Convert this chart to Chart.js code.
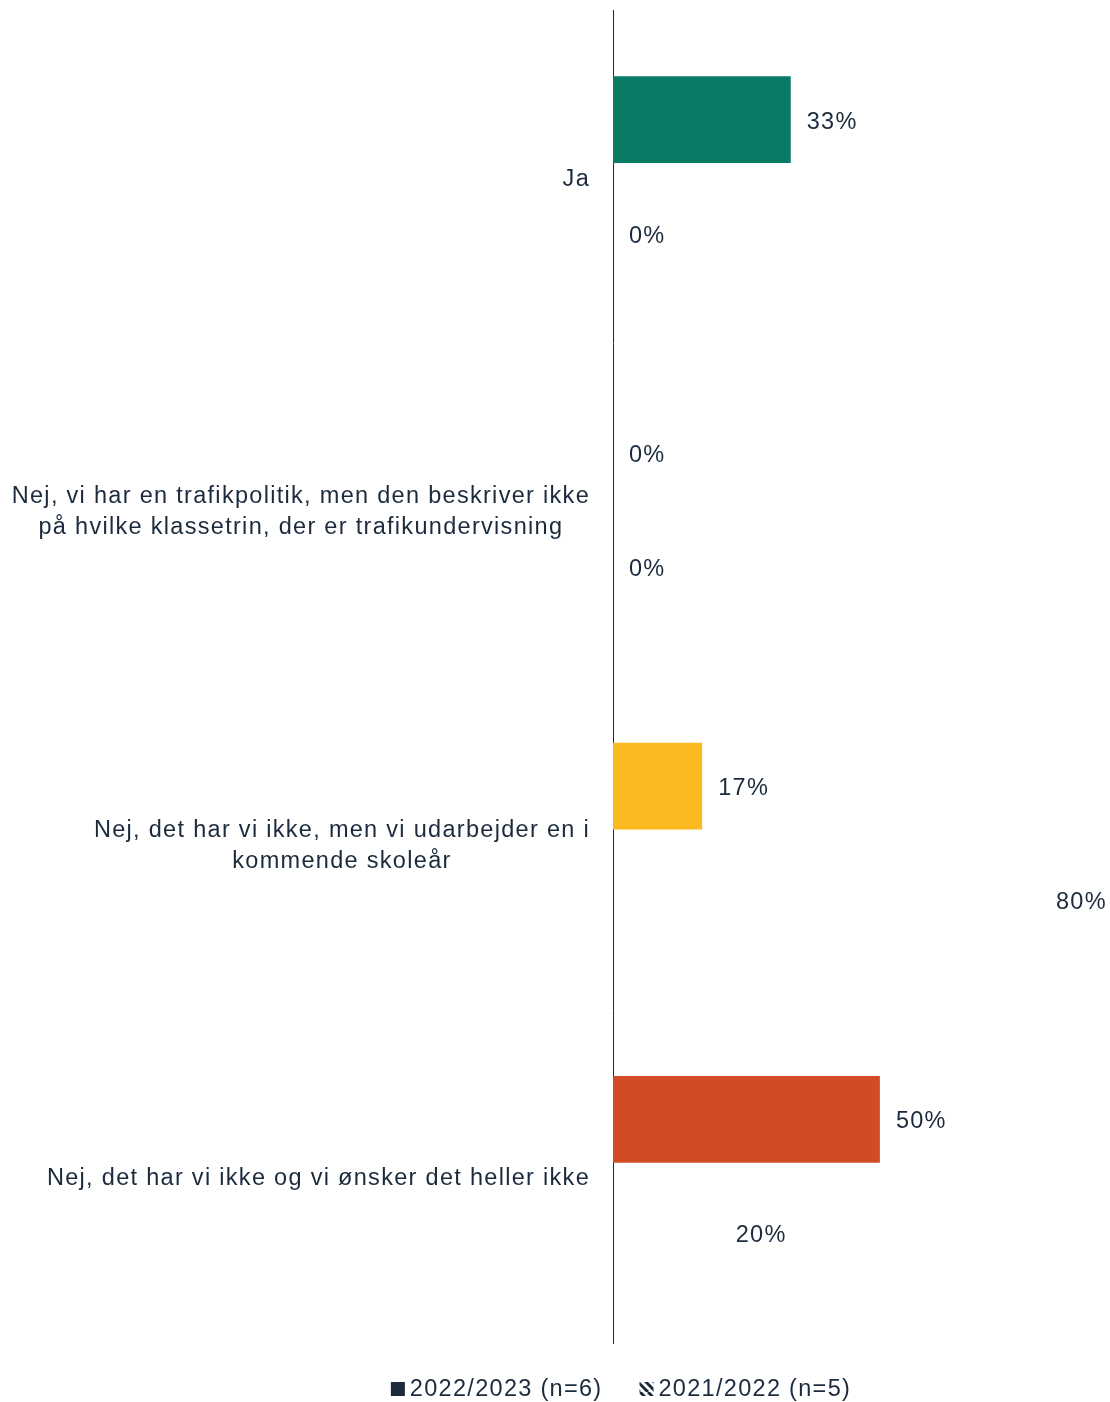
<!DOCTYPE html>
<html><head><meta charset="utf-8">
<script src="https://cdn.jsdelivr.net/npm/chart.js@4.4.0/dist/chart.umd.min.js"></script>
<style>html,body{margin:0;padding:0;background:#fff}#wrap{width:1110px;height:1402px;position:relative}</style>
</head><body><div id="wrap"><canvas id="c"></canvas></div>
<script>
const categories = [
  ['Ja'],
  ['Nej, vi har en trafikpolitik, men den beskriver ikke', 'på hvilke klassetrin, der er trafikundervisning'],
  ['Nej, det har vi ikke, men vi udarbejder en i', 'kommende skoleår'],
  ['Nej, det har vi ikke og vi ønsker det heller ikke']
];
const seriesNames = ['2022/2023 (n=6)', '2021/2022 (n=5)'];
const series2022 = [33.3, 0, 16.7, 50];
const series2021 = [0, 0, 80, 20];
const colors2022 = ['#077b64', '#077b64', '#fbba1f', '#d34b25'];

const TEXT = '#1b2b3d';
const FONT = '23.5px "Liberation Sans", Arial, sans-serif';
const LS = '1.3px';

function makePattern() {
  const c = document.createElement('canvas');
  c.width = 16; c.height = 16;
  const g = c.getContext('2d');
  g.fillStyle = '#fff'; g.fillRect(0, 0, 16, 16);
  g.strokeStyle = TEXT; g.lineWidth = 3;
  for (let k = -16; k <= 16; k += 8) {
    g.beginPath(); g.moveTo(k, 0); g.lineTo(k + 16, 16); g.stroke();
  }
  return c;
}

const textPlugin = {
  id: 'txt',
  afterDatasetsDraw(chart) {
    const ctx = chart.ctx;
    ctx.save();
    ctx.letterSpacing = LS;
    ctx.font = FONT;
    ctx.fillStyle = TEXT;
    ctx.textBaseline = 'middle';
    ctx.textAlign = 'left';
    const dy = 2.5;
    chart.data.datasets.forEach((ds, i) => {
      const meta = chart.getDatasetMeta(i);
      meta.data.forEach((bar, j) => {
        ctx.fillText(Math.round(ds.data[j]) + '%', bar.x + 16, bar.y + dy);
      });
    });
    const ys = chart.scales.y;
    const rightX = chart.chartArea.left - 23;
    categories.forEach((lines, j) => {
      const cy = ys.getPixelForValue(j) + dy;
      const w = Math.max(...lines.map(l => ctx.measureText(l).width));
      const cx = rightX - w / 2;
      ctx.textAlign = 'center';
      lines.forEach((l, k) => ctx.fillText(l, cx, cy + (k - (lines.length - 1) / 2) * 31));
    });
    // legend
    const pat = ctx.createPattern(makePattern(), 'repeat');
    const boxes = [TEXT, pat];
    const widths = seriesNames.map(t => 14 + 5 + ctx.measureText(t).width);
    const gap = 37;
    const total = widths[0] + widths[1] + gap;
    let x = 621 - total / 2;
    const ly = 1389;
    ctx.textAlign = 'left';
    seriesNames.forEach((t, i) => {
      ctx.fillStyle = boxes[i];
      ctx.fillRect(x, ly - 7, 14, 14);
      ctx.fillStyle = TEXT;
      ctx.fillText(t, x + 19, ly + 1);
      x += widths[i] + gap;
    });
    ctx.restore();
  }
};

new Chart(document.getElementById('c'), {
  type: 'bar',
  data: {
    labels: categories,
    datasets: [
      { label: seriesNames[0], data: series2022, backgroundColor: colors2022, borderWidth: 0 },
      { label: seriesNames[1], data: series2021, backgroundColor: 'rgba(0,0,0,0)', borderWidth: 0 }
    ]
  },
  options: {
    indexAxis: 'y',
    responsive: true,
    maintainAspectRatio: false,
    animation: false,
    devicePixelRatio: 1,
    categoryPercentage: 0.684,
    barPercentage: 0.763,
    layout: { padding: { top: 10, bottom: 59, left: 605, right: 70 } },
    plugins: { legend: { display: false }, tooltip: { enabled: false } },
    scales: {
      x: { display: false, min: 0, max: 80 },
      y: {
        grid: { display: false },
        ticks: { display: false },
        border: { display: true, color: TEXT, width: 1 }
      }
    }
  },
  plugins: [textPlugin]
});
</script></body></html>
